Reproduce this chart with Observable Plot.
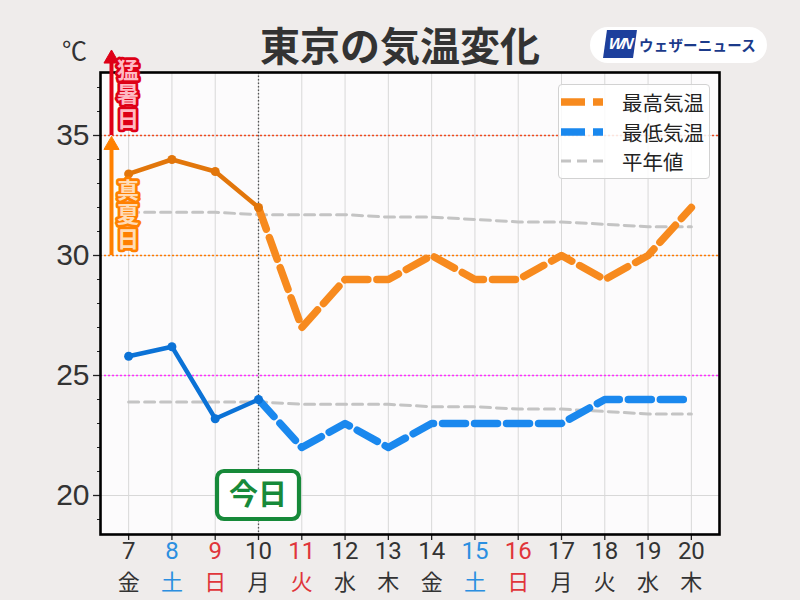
<!DOCTYPE html>
<html><head><meta charset="utf-8">
<script src="https://cdn.jsdelivr.net/npm/d3@7"></script>
<script src="https://cdn.jsdelivr.net/npm/@observablehq/plot@0.6"></script>
<style>
html,body{margin:0;padding:0;background:#efeceb;}
#wrap{position:relative;width:800px;height:600px;overflow:hidden;font-family:"Noto Sans CJK JP","Noto Sans",sans-serif;}
#wrap svg{position:absolute;left:0;top:0;}
#title{position:absolute;left:0;width:800px;top:16px;text-align:center;font-size:40px;font-weight:bold;color:#333;line-height:56px;}
#unit{position:absolute;left:62px;top:31px;font-size:25px;color:#333;font-family:"Liberation Sans","Noto Sans CJK JP",sans-serif;}
#logo{position:absolute;left:590px;top:27px;width:177px;height:36px;border-radius:18px;background:#fff;}
#wn{position:absolute;left:15px;top:3px;width:30px;height:28px;background:#1d3f9c;transform:skewX(-8deg);color:#fff;font:italic bold 16px "Liberation Sans",sans-serif;letter-spacing:-2px;line-height:28px;text-align:center;}
#logotext{position:absolute;left:49px;top:0;line-height:36px;font-size:14.5px;font-weight:bold;color:#1b3a8a;letter-spacing:0.2px;}
#legend{position:absolute;left:558px;top:84px;width:152px;height:95px;background:rgba(255,255,255,0.85);border:1px solid #d2d2d2;border-radius:4px;box-sizing:border-box;}
.lrow{position:absolute;left:0;height:30px;width:150px;}
.lrow svg{position:absolute;left:7px;top:0;}
.lrow span{position:absolute;left:63px;top:0;line-height:30px;font-size:20.5px;color:#222;}
</style></head><body><div id="wrap"></div>
<script>
// ---- data ----
const days = [7, 8, 9, 10, 11, 12, 13, 14, 15, 16, 17, 18, 19, 20];
const weekdays = ["金", "土", "日", "月", "火", "水", "木", "金", "土", "日", "月", "火", "水", "木"];
const dayColors = ["#333", "#2b8fe0", "#e0353a", "#333", "#e0353a", "#333", "#333", "#333", "#2b8fe0", "#e0353a", "#333", "#333", "#333", "#333"];
const obsDays = [7, 8, 9, 10];
const highObs = [33.4, 34.0, 33.5, 32.0];
const lowObs = [25.8, 26.2, 23.2, 24.0];
const fcstDays = [10, 11, 12, 13, 14, 15, 16, 17, 18, 19, 20];
const highFcst = [32.0, 27.0, 29.0, 29.0, 30.0, 29.0, 29.0, 30.0, 29.0, 30.0, 32.0];
const lowFcst = [24.0, 22.0, 23.0, 22.0, 23.0, 23.0, 23.0, 23.0, 24.0, 24.0, 24.0];
const normalHigh = [31.8, 31.8, 31.8, 31.7, 31.7, 31.7, 31.6, 31.6, 31.5, 31.4, 31.4, 31.3, 31.2, 31.2];
const normalLow = [23.9, 23.9, 23.9, 23.9, 23.8, 23.8, 23.8, 23.7, 23.7, 23.6, 23.6, 23.5, 23.4, 23.4];
const yTicks = [20, 25, 30, 35];
const yMinorTicks = [19, 21, 22, 23, 24, 26, 27, 28, 29, 31, 32, 33, 34, 36, 37];
const thresholdValues = [35, 30, 25];
const thresholdColors = ["#f04a1e", "#ff7a00", "#ff2bff"];
const today = 10;
const bandFrom = [35, 30];
const bandTo = [38.2, 34.6];
const bandLabels = ["猛暑日", "真夏日"];
const bandStroke = ["#de0016", "#ff8000"];
const bandFill = ["#ffbac4", "#ffdcb8"];
const xDomain = [6.35, 20.65];
const yDomain = [18.375, 37.625];

// ---- tables ----
const rows = (xs, ys) => xs.map((d, i) => ({day: d, t: ys[i]}));
const thresholds = thresholdValues.map((t, i) => ({t, c: thresholdColors[i]}));
const bands = bandFrom.map((f, i) => ({from: f, to: bandTo[i], stroke: bandStroke[i], fill: bandFill[i], label: bandLabels[i], x: xDomain[0]}));

const font = "'Noto Sans CJK JP', sans-serif";

const todayBox = (index, scales) => {
  const cx = scales.x(today), cy = scales.y(20);
  const g = d3.create("svg:g");
  g.append("rect").attr("x", cx - 41).attr("y", cy - 24).attr("width", 82).attr("height", 48)
    .attr("rx", 7).attr("fill", "#fff").attr("stroke", "#178a3a").attr("stroke-width", 4.2);
  g.append("text").attr("x", cx).attr("y", cy).attr("dy", "0.36em").attr("text-anchor", "middle")
    .attr("font-family", font).attr("font-weight", "bold").attr("font-size", 29).attr("fill", "#178a3a").text("今日");
  return g.node();
};

// vertical (tategaki) labels stacked upward from each threshold
const bandLabelMark = (index, scales) => {
  const g = d3.create("svg:g");
  bands.forEach(b => {
    g.append("text")
      .attr("x", scales.x(b.x) + 28).attr("y", scales.y(b.from) - 3)
      .attr("writing-mode", "vertical-rl").attr("text-anchor", "end")
      .attr("font-family", font).attr("font-weight", "bold").attr("font-size", 22).attr("letter-spacing", 2.5)
      .attr("fill", b.fill).attr("stroke", b.stroke).attr("stroke-width", 5.5)
      .attr("stroke-linejoin", "round").attr("paint-order", "stroke")
      .text(b.label);
  });
  return g.node();
};

const plot = Plot.plot({
  width: 800, height: 600,
  marginLeft: 100, marginRight: 81, marginTop: 72, marginBottom: 66,
  x: {domain: xDomain, axis: null},
  y: {domain: yDomain, axis: null},
  color: {type: "identity"},
  style: {background: "transparent", fontFamily: font, overflow: "visible"},
  marks: [
    Plot.frame({fill: "#fcfbfc", stroke: null}),
    Plot.gridX(days, {stroke: "#d8d8d8", strokeOpacity: 1, strokeWidth: 1}),
    Plot.gridY(yTicks, {stroke: "#d8d8d8", strokeOpacity: 1, strokeWidth: 1}),
    Plot.ruleY(thresholds, {y: "t", stroke: "c", strokeDasharray: "2,2", strokeWidth: 1.6}),
    Plot.ruleX([today], {stroke: "#555", strokeDasharray: "1.5,2", strokeWidth: 1.3}),
    Plot.line(rows(days, normalHigh), {x: "day", y: "t", stroke: "#c4c4c4", strokeWidth: 3, strokeDasharray: "10,6"}),
    Plot.line(rows(days, normalLow), {x: "day", y: "t", stroke: "#c4c4c4", strokeWidth: 3, strokeDasharray: "10,6"}),
    Plot.line(rows(fcstDays, highFcst), {x: "day", y: "t", stroke: "#f78a1e", strokeWidth: 7.5, strokeDasharray: "23,9"}),
    Plot.line(rows(fcstDays, lowFcst), {x: "day", y: "t", stroke: "#1a88ee", strokeWidth: 7.5, strokeDasharray: "23,9"}),
    Plot.line(rows(obsDays, highObs), {x: "day", y: "t", stroke: "#e2760b", strokeWidth: 4.5}),
    Plot.dot(rows(obsDays, highObs), {x: "day", y: "t", fill: "#e2760b", r: 4.5}),
    Plot.line(rows(obsDays, lowObs), {x: "day", y: "t", stroke: "#0b72d6", strokeWidth: 4.5}),
    Plot.dot(rows(obsDays, lowObs), {x: "day", y: "t", fill: "#0b72d6", r: 4.5}),
    Plot.axisY(yTicks, {tickSize: 7, tickPadding: 4, fontSize: 30, fontFamily: "'Liberation Sans', sans-serif", fill: "#333", stroke: "#222", strokeWidth: 1.3, label: null}),
    Plot.axisY(yMinorTicks, {tickSize: 3, tickFormat: () => "", stroke: "#222", label: null}),
    Plot.axisX(days, {tickSize: 6, tickFormat: () => "", stroke: "#222", strokeWidth: 1.3, label: null}),
    Plot.text(days, {x: d => d, text: d => String(d), frameAnchor: "bottom", dy: 24, fill: (d, i) => dayColors[i], fontSize: 24, fontFamily: "Roboto, sans-serif"}),
    Plot.text(days, {x: d => d, text: (d, i) => weekdays[i], frameAnchor: "bottom", dy: 55, fill: (d, i) => dayColors[i], fontSize: 22}),
    Plot.frame({stroke: "#000", strokeWidth: 2.6}),
    Plot.ruleX(bands, {x: "x", y1: "from", y2: "to", stroke: "stroke", strokeWidth: 4, dx: 11}),
    Plot.dot(bands, {x: "x", y: "to", symbol: "triangle", r: 5.6, fill: "stroke", stroke: "stroke", strokeWidth: 1, dx: 11}),
    bandLabelMark,
    todayBox
  ]
});

const wrap = document.getElementById("wrap");
wrap.appendChild(plot);

const dash = (color, w, da) => `<svg width="46" height="30"><line x1="2" y1="15" x2="44" y2="15" stroke="${color}" stroke-width="${w}" stroke-dasharray="${da}"/></svg>`;
wrap.insertAdjacentHTML("beforeend", `
<div id="title">東京の気温変化</div>
<div id="unit">℃</div>
<div id="logo"><div id="wn">WN</div><div id="logotext">ウェザーニュース</div></div>
<div id="legend">
  <div class="lrow" style="top:2px">${dash("#f78a1e", 7.5, "24,8")}<span>最高気温</span></div>
  <div class="lrow" style="top:32px">${dash("#1a88ee", 7.5, "24,8")}<span>最低気温</span></div>
  <div class="lrow" style="top:61px">${dash("#c4c4c4", 3, "10,6")}<span>平年値</span></div>
</div>`);
</script>
</body></html>
